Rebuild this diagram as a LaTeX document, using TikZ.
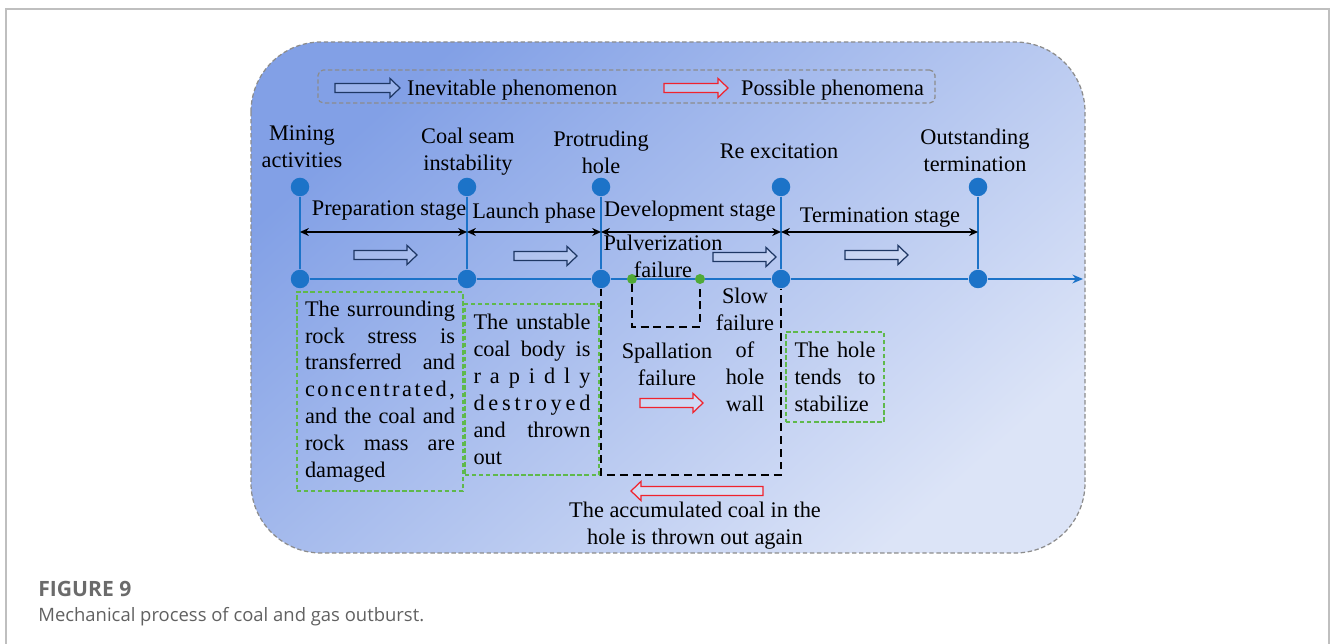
\documentclass[tikz,border=0pt]{standalone}
\usepackage{fontspec}
\setmainfont{Liberation Serif}
\newfontfamily\capfont{Open Sans}
\usepackage{tikz}
\usetikzlibrary{arrows.meta,positioning}

\definecolor{bgdark}{RGB}{130,160,230}
\definecolor{bgmid}{RGB}{174,190,238}
\definecolor{bglight}{RGB}{220,228,247}
\definecolor{tlblue}{RGB}{28,115,200}
\definecolor{navy}{RGB}{30,55,100}
\definecolor{boxgreen}{RGB}{95,185,75}
\definecolor{dotgreen}{RGB}{80,170,55}
\definecolor{possred}{RGB}{240,35,45}
\def\figfont{\rmfamily\fontsize{12.7}{15.3}\selectfont}
\newcommand{\fullline}[1]{{\spaceskip=0pt\xspaceskip=0pt\makebox[\hsize][s]{#1}}}

\tikzset{
	bigdot/.style={circle, fill=tlblue, inner sep=0pt, minimum size=0.37cm},
	smalldot/.style={circle, fill=dotgreen, inner sep=0pt, minimum size=0.2cm},
	txt/.style={align=center, inner sep=1pt, font=\figfont},
	greenbox/.style={draw=boxgreen, line width=0.6pt, dash pattern=on 2.5pt off 1.5pt, align=left, font=\figfont, inner ysep=0pt},
	blackdash/.style={black, line width=0.8pt, dash pattern=on 4.5pt off 2.8pt},
	stagearrow/.style={black, line width=0.8pt, {Stealth[length=5pt,width=4.5pt]}-{Stealth[length=5pt,width=4.5pt]}},
	pics/blockarrow/.style={code={
		\path[pic actions] (0,-4.6) -- (#1-10,-4.6) -- (#1-10,-9.6) -- (#1,0) -- (#1-10,9.6) -- (#1-10,4.6) -- (0,4.6) -- cycle;
	}},
	inevitable/.style={draw=navy, line width=0.7pt, fill=white, fill opacity=0.2},
	possible/.style={draw=possred, line width=0.7pt, fill=white, fill opacity=0.3},
}

\begin{document}
\begin{tikzpicture}[x=0.02cm, y=-0.02cm]
	\useasboundingbox (0,0) rectangle (1330,644);
	%%%%% START %%%%%
	
	% page frame and panel
	\draw[black!25, line width=1pt] (6,644) -- (6,9) -- (1329,9) -- (1329,644);
	\path[draw=black!45, line width=0.7pt, dash pattern=on 2.5pt off 1.5pt, rounded corners=1.4cm, top color=bgdark, middle color=bgmid, bottom color=bglight, shading angle=42] (251,42) rectangle (1085,553);
	
	% legend
	\node[draw=black!45, line width=0.7pt, dash pattern=on 2.5pt off 1.5pt, rounded corners=3pt, minimum width=12.34cm, minimum height=0.66cm] (legend) at (626.5,86.5) {};
	\pic[inevitable] at (335,88) {blockarrow=65};
	\node[txt, anchor=west] (inev) at (405,90) {Inevitable phenomenon};
	\pic[possible] at (664,88) {blockarrow=64};
	\node[txt, anchor=west] (poss) at (739,90) {Possible phenomena};
	
	% milestones
	\node[bigdot] (t1) at (300,187) {};
	\node[bigdot] (t2) at (467,187) {};
	\node[bigdot] (t3) at (601,187) {};
	\node[bigdot] (t4) at (781,187) {};
	\node[bigdot] (t5) at (978,187) {};
	\node[bigdot] (b1) at (300,279) {};
	\node[bigdot] (b2) at (467,279) {};
	\node[bigdot] (b3) at (601,279) {};
	\node[bigdot] (b4) at (781,279) {};
	\node[bigdot] (b5) at (978,279) {};
	\node[smalldot] (g1) at (632,279) {};
	\node[smalldot] (g2) at (700,279) {};
	\coordinate (tend) at (1083,279);
	
	\foreach \i in {1,...,5}
		\draw[tlblue, line width=0.9pt] (t\i) -- (b\i);
	\draw[tlblue, line width=1pt] (b1) -- (b2) -- (b3) -- (g1) -- (g2) -- (b4) -- (b5);
	\draw[tlblue, line width=1pt, -{Stealth[length=6pt,width=5pt]}] (b5) -- (tend);
	
	% stages
	\coordinate (s1) at (300,232);
	\coordinate (s2) at (467,232);
	\coordinate (s3) at (601,232);
	\coordinate (s4) at (781,232);
	\coordinate (s5) at (978,232);
	\foreach \a/\b in {1/2,2/3,3/4,4/5}
		\draw[stagearrow] (s\a) -- (s\b);
	
	\node[txt] (mining) at (302,147) {Mining\\activities};
	\node[txt] (seam) at (468,152) {Coal seam\\instability};
	\node[txt] (hole) at (601,152) {Protruding\\hole};
	\node[txt] (reexc) at (779,151) {Re excitation};
	\node[txt] (outst) at (975,150) {Outstanding\\termination};
	
	\node[txt] (prep) at (389,211) {Preparation stage};
	\node[txt] (launch) at (534,213) {Launch phase};
	\node[txt] (devel) at (690,211) {Development stage};
	\node[txt] (termst) at (880,218) {Termination stage};
	
	\pic[inevitable] at (354,255) {blockarrow=63};
	\pic[inevitable] at (514,256) {blockarrow=63};
	\pic[inevitable] at (713,257) {blockarrow=63};
	\pic[inevitable] at (845,255) {blockarrow=63};
	
	% development stage detail
	\draw[blackdash] (g1) -- ++(0,48) -| (g2);
	\draw[blackdash] (b3) -- ++(0,196) -| (b4);
	
	\node[txt] (pulv) at (663,256) {Pulverization\\failure};
	\node[txt] (spall) at (667,364) {Spallation\\failure};
	\node[txt] (slow) at (745,350) {Slow\\failure\\of\\hole\\wall};
	\pic[possible] at (640,403) {blockarrow=63};
	\pic[possible, rotate=180] at (763,491) {blockarrow=132};
	\node[txt] (again) at (695,526) {The accumulated coal in the\\hole is thrown out again};
	
	% descriptions
	\node[greenbox, text width=3cm, inner xsep=0.16cm, minimum height=3.98cm] (stress) at (380,391.5) {\noindent
		\fullline{The surrounding}\\
		\fullline{rock stress is}\\
		\fullline{transferred and}\\
		\fullline{c\hfil o\hfil n\hfil c\hfil e\hfil n\hfil t\hfil r\hfil a\hfil t\hfil e\hfil d\hfil ,}\\
		\fullline{and the coal and}\\
		\fullline{rock mass are}\\
		damaged};
	\node[greenbox, text width=2.34cm, inner xsep=0.17cm, minimum height=3.42cm] (unstable) at (532,389.5) {\noindent
		\fullline{The unstable}\\
		\fullline{coal body is}\\
		\fullline{r\hfil a\hfil p\hfil i\hfil d\hfil l\hfil y}\\
		\fullline{d\hfil e\hfil s\hfil t\hfil r\hfil o\hfil y\hfil e\hfil d}\\
		\fullline{and thrown}\\
		out};
	\node[greenbox, text width=1.62cm, inner xsep=0.17cm, minimum height=1.8cm] (stable) at (835,377) {\noindent
		\fullline{The hole}\\
		\fullline{tends to}\\
		stabilize};
	
	% caption
	\node[anchor=base west, inner sep=0pt, font=\capfont\bfseries\fontsize{12}{14}\selectfont, text=black!58] (fignum) at (38,597) {FIGURE 9};
	\node[anchor=base west, inner sep=0pt, font=\capfont\fontsize{10.5}{12}\selectfont, text=black!62] (figcap) at (38,622) {Mechanical process of coal and gas outburst.};
	
	%%%%% END %%%%%
\end{tikzpicture}
\end{document}
